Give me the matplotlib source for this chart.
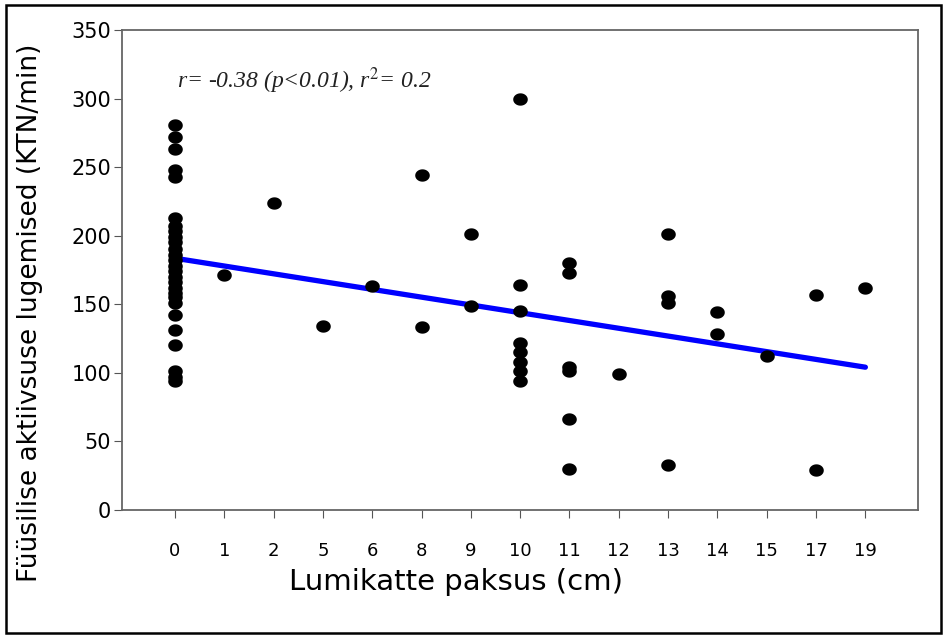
import numpy as np
import matplotlib
matplotlib.use("Agg")
import matplotlib.pyplot as plt
from matplotlib.path import Path
from matplotlib.patches import Rectangle

plt.rcParams["mathtext.fontset"] = "stix"

# snow depth categories (shown equally spaced)
depth_labels = ["0", "1", "2", "5", "6", "8", "9", "10", "11", "12", "13", "14", "15", "17", "19"]

# activity counts per snow depth
vals_0 = [281, 272, 263, 248, 243, 213, 207, 203, 199, 195, 190, 186, 182, 178, 174,
          170, 166, 162, 158, 155, 151, 142, 131, 120, 101, 97, 94]
vals_1 = [171]
vals_2 = [224]
vals_5 = [134]
vals_6 = [163]
vals_8 = [244, 133]
vals_9 = [201, 149]
vals_10 = [300, 164, 145, 122, 115, 108, 101, 94]
vals_11 = [180, 173, 104, 101, 66, 30]
vals_12 = [99]
vals_13 = [201, 156, 151, 33]
vals_14 = [144, 128]
vals_15 = [112]
vals_17 = [157, 29]
vals_19 = [162]

all_vals = [vals_0, vals_1, vals_2, vals_5, vals_6, vals_8, vals_9, vals_10,
            vals_11, vals_12, vals_13, vals_14, vals_15, vals_17, vals_19]

# regression line end values (at first and last category)
fit_y = [183.5, 104]

xs, ys = [], []
for i, v in enumerate(all_vals):
    xs += [i] * len(v)
    ys += v

# slightly wide elliptical dot like in the original picture
t = np.linspace(0, 2 * np.pi, 60)
ell = Path(np.column_stack([1.18 * np.cos(t), np.sin(t)]), closed=True)

fig = plt.figure(figsize=(9.47, 6.38), dpi=100)
ax = fig.add_axes([0.129, 0.201, 0.840, 0.752])

ax.plot([0, len(depth_labels) - 1], fit_y, color="#0000ff", lw=3.8, solid_capstyle="round", zorder=2)
ax.scatter(xs, ys, marker=ell, s=110, color="black", zorder=3, linewidths=0)

ax.set_xlim(-1.07, len(depth_labels) - 1 + 1.06)
ax.set_ylim(0, 350)
ax.set_xticks(range(len(depth_labels)))
ax.set_xticklabels(depth_labels, fontsize=13, family="Liberation Sans Narrow")
ax.set_yticks(range(0, 351, 50))
ax.tick_params(axis="y", labelsize=15, length=6, color="#555555", pad=2)
ax.tick_params(axis="x", length=6, color="#555555", pad=17)

for s in ax.spines.values():
    s.set_color("#666666")
    s.set_linewidth(1.3)

ax.set_xlabel("Lumikatte paksus (cm)", fontsize=21)
ax.xaxis.set_label_coords(0.42, -0.122)
ax.set_ylabel("Füüsilise aktiivsuse lugemised (KTN/min)", fontsize=19)
ax.yaxis.set_label_coords(-0.10, 0.41)

ax.text(0.04, 313, r"r= -0.38 (p<0.01), r$^{\mathit{2}}$= 0.2", fontsize=17, style="italic",
        family="Liberation Serif", color="#222222", va="center")

fig.patches.append(Rectangle((0.006, 0.008), 0.988, 0.984, transform=fig.transFigure,
                             fill=False, edgecolor="black", lw=1.8))

plt.savefig("out.png", dpi=100)
